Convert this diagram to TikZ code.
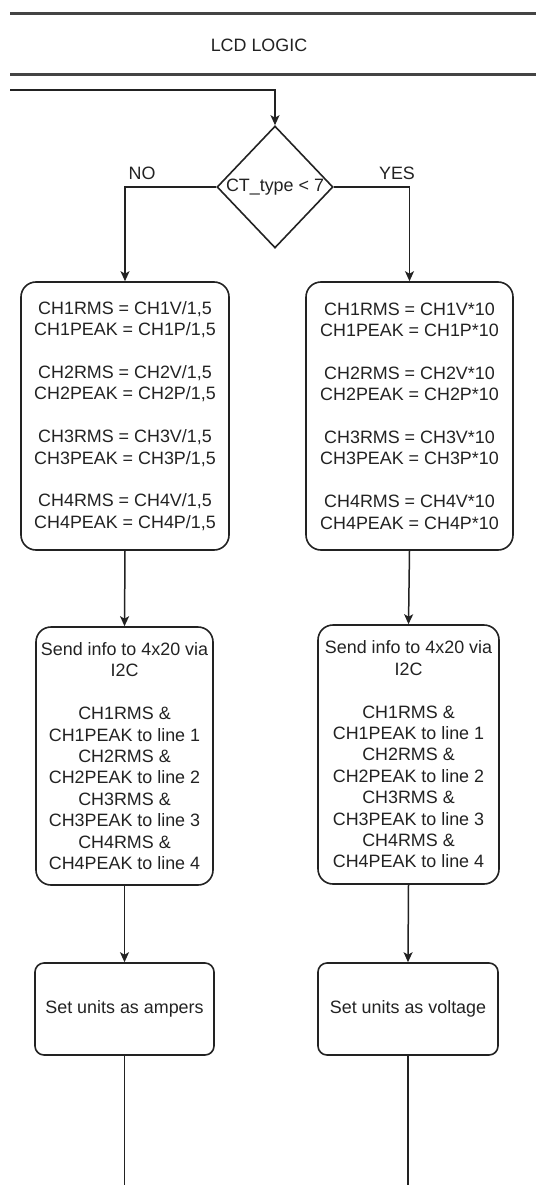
\documentclass[tikz,border=0pt]{standalone}
\usepackage{fontspec}
\setmainfont{Liberation Sans}
\usetikzlibrary{shapes.geometric,arrows.meta}
\definecolor{ink}{HTML}{222222}
\definecolor{rule}{HTML}{444444}
\tikzset{
  every node/.style={font=\fontsize{17.9}{21.4}\selectfont, text=ink},
  calcbox/.style={draw=ink, line width=1.6pt, rounded corners=15pt, inner sep=0pt, align=center},
  unitbox/.style={draw=ink, line width=1.6pt, rounded corners=9pt, inner sep=0pt, align=center},
  decision/.style={draw=ink, line width=1.6pt, diamond, inner sep=0pt, minimum width=116pt, minimum height=122pt},
  flow/.style={draw=ink, line width=1.5pt, -{Stealth[length=10pt,width=9pt,inset=2.5pt]}},
  plain/.style={draw=ink, line width=1.5pt},
  header/.style={draw=rule, line width=2.2pt}
}
\begin{document}
\begin{tikzpicture}[x=1pt, y=-1pt]
\useasboundingbox (0,0) rectangle (536,1185);

% title band
\coordinate (h1a) at (10,13.5);  \coordinate (h1b) at (536,13.5);
\coordinate (h2a) at (10,74.5);  \coordinate (h2b) at (536,74.5);
\draw[header] (h1a) -- (h1b);
\draw[header] (h2a) -- (h2b);
\node (title) at (259,45) {LCD LOGIC};

% decision
\coordinate (entry) at (10,90);
\node[decision] (dec) at (275,187) {CT\_type < 7};
\draw[flow] (entry) -| (dec.north);

\node (no)  at (142,173) {NO};
\node (yes) at (397,173) {YES};

% conversion boxes
\node[calcbox, minimum width=208pt, minimum height=268pt] (convL) at (125,416)
  {CH1RMS = CH1V/1,5\\CH1PEAK = CH1P/1,5\\[21.4pt]
   CH2RMS = CH2V/1,5\\CH2PEAK = CH2P/1,5\\[21.4pt]
   CH3RMS = CH3V/1,5\\CH3PEAK = CH3P/1,5\\[21.4pt]
   CH4RMS = CH4V/1,5\\CH4PEAK = CH4P/1,5};
\node[calcbox, minimum width=207pt, minimum height=268pt] (convR) at (409.5,416)
  {CH1RMS = CH1V*10\\CH1PEAK = CH1P*10\\[21.4pt]
   CH2RMS = CH2V*10\\CH2PEAK = CH2P*10\\[21.4pt]
   CH3RMS = CH3V*10\\CH3PEAK = CH3P*10\\[21.4pt]
   CH4RMS = CH4V*10\\CH4PEAK = CH4P*10};

\draw[flow] (dec.west) -| (convL.north);
\draw[flow] (dec.east) -| (convR.north);

% send boxes
\node[calcbox, minimum width=177pt, minimum height=258pt] (sendL) at (124.5,756)
  {Send info to 4x20 via\\I2C\\[21.4pt]
   CH1RMS \&\\CH1PEAK to line 1\\CH2RMS \&\\CH2PEAK to line 2\\
   CH3RMS \&\\CH3PEAK to line 3\\CH4RMS \&\\CH4PEAK to line 4};
\node[calcbox, minimum width=181pt, minimum height=259pt] (sendR) at (408.5,754.5)
  {Send info to 4x20 via\\I2C\\[21.4pt]
   CH1RMS \&\\CH1PEAK to line 1\\CH2RMS \&\\CH2PEAK to line 2\\
   CH3RMS \&\\CH3PEAK to line 3\\CH4RMS \&\\CH4PEAK to line 4};

\draw[flow] (convL.south) -- (sendL.north);
\draw[flow] (convR.south) -- (sendR.north);

% unit boxes
\node[unitbox, minimum width=179pt, minimum height=92pt] (unitL) at (124.5,1009) {Set units as ampers};
\node[unitbox, minimum width=180pt, minimum height=92pt] (unitR) at (408,1009) {Set units as voltage};

\draw[flow] (sendL.south) -- (unitL.north);
\draw[flow] (sendR.south) -- (unitR.north);

% continuation lines
\coordinate (outL) at (124.5,1185);
\coordinate (outR) at (408,1185);
\draw[plain] (unitL.south) -- (outL);
\draw[plain] (unitR.south) -- (outR);
\end{tikzpicture}
\end{document}
